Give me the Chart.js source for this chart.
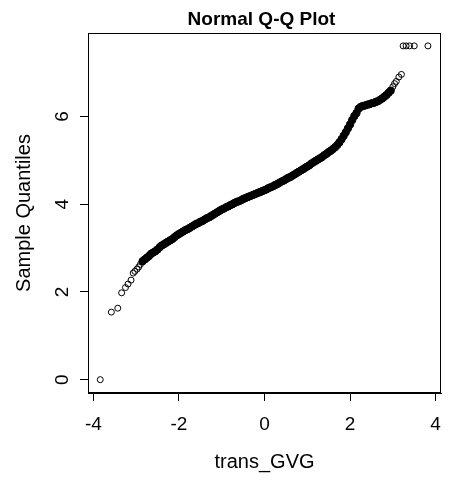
<!DOCTYPE html>
<html>
<head>
<meta charset="utf-8">
<script src="https://cdn.jsdelivr.net/npm/chart.js@4"></script>
<style>
html,body{margin:0;padding:0;background:#fff;}
#wrap{width:453px;height:480px;position:relative;}
</style>
</head>
<body>
<div id="wrap"><canvas id="c"></canvas></div>
<script>
// ---- data ----
const chartTitle = "Normal Q-Q Plot";
const xTitle = "trans_GVG";
const yTitle = "Sample Quantiles";
const xTicks = [-4, -2, 0, 2, 4];
const yTicks = [0, 2, 4, 6];

// theoretical quantiles (x) and sample quantiles (y) of the dense middle band
const denseX = [-2.85,-2.80,-2.75,-2.70,-2.65,-2.60,-2.55,-2.50,-2.45,-2.40,-2.35,-2.30,-2.25,-2.20,-2.15,-2.10,-2.05,-2.00,-1.95,-1.90,-1.85,-1.80,-1.75,-1.70,-1.65,-1.60,-1.55,-1.50,-1.45,-1.40,-1.35,-1.30,-1.25,-1.20,-1.15,-1.10,-1.05,-1.00,-0.95,-0.90,-0.85,-0.80,-0.75,-0.70,-0.65,-0.60,-0.55,-0.50,-0.45,-0.40,-0.35,-0.30,-0.25,-0.20,-0.15,-0.10,-0.05,0.00,0.05,0.10,0.15,0.20,0.25,0.30,0.35,0.40,0.45,0.50,0.55,0.60,0.65,0.70,0.75,0.80,0.85,0.90,0.95,1.00,1.05,1.10,1.15,1.20,1.25,1.30,1.35,1.40,1.45,1.50,1.55,1.60,1.65,1.70,1.75,1.80,1.85,1.90,1.95,2.00,2.05,2.10,2.15,2.20,2.25,2.30,2.35,2.40,2.45,2.50,2.55,2.60,2.65,2.70,2.75,2.80,2.85,2.90,2.95];
const denseY = [2.70,2.74,2.78,2.82,2.87,2.90,2.93,2.97,3.02,3.06,3.09,3.12,3.15,3.18,3.21,3.25,3.29,3.32,3.35,3.38,3.41,3.43,3.46,3.49,3.52,3.55,3.57,3.60,3.62,3.65,3.68,3.70,3.73,3.76,3.79,3.82,3.85,3.88,3.90,3.93,3.95,3.98,4.00,4.03,4.05,4.07,4.09,4.12,4.14,4.16,4.18,4.20,4.22,4.24,4.26,4.28,4.30,4.32,4.34,4.37,4.39,4.41,4.44,4.46,4.49,4.52,4.54,4.57,4.60,4.62,4.65,4.68,4.71,4.74,4.77,4.80,4.83,4.86,4.89,4.93,4.96,4.99,5.02,5.05,5.08,5.12,5.15,5.19,5.22,5.26,5.30,5.35,5.41,5.48,5.56,5.64,5.73,5.82,5.92,6.01,6.08,6.18,6.22,6.24,6.25,6.27,6.28,6.30,6.31,6.33,6.35,6.38,6.41,6.45,6.49,6.54,6.59];

// separate (visible individual) points in the tails
const tailX = [-3.84,-3.58,-3.43,-3.34,-3.25,-3.19,-3.12,-3.07,-3.03,-2.98,-2.94,-2.90,3.00,3.04,3.08,3.14,3.20,3.24,3.31,3.39,3.50,3.82];
const tailY = [0.00,1.54,1.63,1.98,2.10,2.18,2.27,2.43,2.47,2.52,2.57,2.63,6.68,6.75,6.80,6.90,6.96,7.61,7.61,7.61,7.61,7.61];

const xMin = -4.126, xMax = 4.126, yMin = -0.304, yMax = 7.904;

const FONT = "'Liberation Sans', Arial, Helvetica, sans-serif";

const toPts = (xs, ys) => xs.map((x, i) => ({x: x, y: ys[i]}));

const boxAndTitle = {
  id: 'boxAndTitle',
  afterDraw(chart) {
    const {ctx, chartArea: a} = chart;
    ctx.save();
    ctx.strokeStyle = '#000';
    ctx.lineWidth = 1;
    ctx.strokeRect(Math.round(a.left) + 0.5, Math.round(a.top) + 0.5,
                   Math.round(a.right - a.left) - 1, Math.round(a.bottom - a.top) - 1);
    ctx.fillStyle = '#000';
    ctx.font = "bold 19px " + FONT;
    ctx.textAlign = 'center';
    ctx.textBaseline = 'alphabetic';
    ctx.fillText(chartTitle, (a.left + a.right) / 2 - 3, 25);
    ctx.restore();
  }
};

new Chart(document.getElementById('c'), {
  type: 'scatter',
  data: {
    datasets: [
      {
        data: toPts(denseX, denseY),
        pointStyle: 'circle',
        pointRadius: 3.7,
        pointBorderWidth: 1,
        pointBackgroundColor: '#000',
        pointBorderColor: '#000'
      },
      {
        data: toPts(tailX, tailY),
        pointStyle: 'circle',
        pointRadius: 3,
        pointBorderWidth: 1,
        pointBackgroundColor: 'rgba(0,0,0,0)',
        pointBorderColor: '#000'
      }
    ]
  },
  options: {
    responsive: true,
    maintainAspectRatio: false,
    animation: false,
    events: [],
    layout: { padding: { left: 0, right: 4, top: 33, bottom: 0 } },
    plugins: { legend: { display: false }, tooltip: { enabled: false }, title: { display: false } },
    scales: {
      x: {
        type: 'linear',
        min: xMin, max: xMax,
        afterBuildTicks: s => { s.ticks = xTicks.map(v => ({value: v})); },
        afterFit: s => { s.height = 87; },
        grid: { display: true, drawOnChartArea: false, drawTicks: true, tickLength: 8, color: '#000', lineWidth: 1 },
        border: { display: true, color: '#000', width: 1 },
        ticks: { color: '#000', font: { family: FONT, size: 19 }, padding: 12, maxRotation: 0, autoSkip: false },
        title: { display: true, text: xTitle, color: '#000', font: { family: FONT, size: 20 }, padding: { top: 0, bottom: 6 } }
      },
      y: {
        type: 'linear',
        min: yMin, max: yMax,
        afterBuildTicks: s => { s.ticks = yTicks.map(v => ({value: v})); },
        afterFit: s => { s.width = 88; },
        grid: { display: true, drawOnChartArea: false, drawTicks: true, tickLength: 8, color: '#000', lineWidth: 1 },
        border: { display: true, color: '#000', width: 1 },
        ticks: { color: '#000', font: { family: FONT, size: 19 }, padding: 12, minRotation: 90, maxRotation: 90, crossAlign: 'center', autoSkip: false },
        title: { display: true, text: yTitle, color: '#000', font: { family: FONT, size: 20 }, padding: { top: 12, bottom: 0 } }
      }
    }
  },
  plugins: [boxAndTitle]
});
</script>
</body>
</html>
